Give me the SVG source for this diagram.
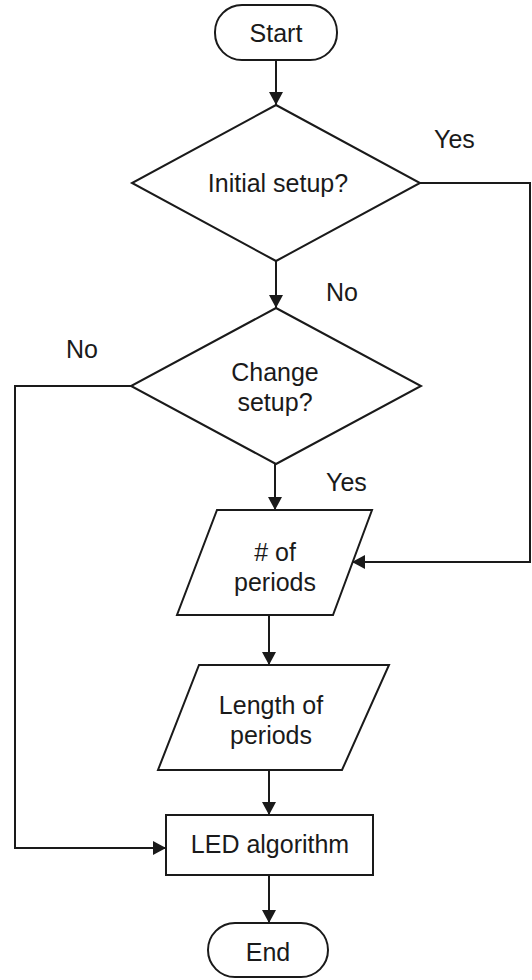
<svg xmlns="http://www.w3.org/2000/svg" width="532" height="980" viewBox="0 0 532 980">
<defs>
<style>
.shape{fill:#fff;stroke:#1a1a1a;stroke-width:2}
.conn{fill:none;stroke:#1a1a1a;stroke-width:2}
text{font-family:"Liberation Sans",Arial,sans-serif;font-size:25px;fill:#1a1a1a;text-anchor:middle}
.lbl{text-anchor:start}
</style>
<marker id="arr" markerUnits="userSpaceOnUse" markerWidth="14" markerHeight="14" refX="13" refY="7" orient="auto">
<path d="M0,0 L13,7 L0,14 z" fill="#1a1a1a"/>
</marker>
</defs>
<rect width="532" height="980" fill="#fff"/>
<g id="connectors">
<path class="conn" d="M276,60 V105" marker-end="url(#arr)"/>
<path class="conn" d="M276,261 V308" marker-end="url(#arr)"/>
<path class="conn" d="M420,183 H530 V562 H352" marker-end="url(#arr)"/>
<path class="conn" d="M131,386 H15 V848 H166" marker-end="url(#arr)"/>
<path class="conn" d="M275,464 V510" marker-end="url(#arr)"/>
<path class="conn" d="M269,615 V665" marker-end="url(#arr)"/>
<path class="conn" d="M269,770 V815" marker-end="url(#arr)"/>
<path class="conn" d="M269,875 V923" marker-end="url(#arr)"/>
</g>
<g id="labels">
<text class="lbl" x="434" y="148">Yes</text>
<text class="lbl" x="326" y="301">No</text>
<text class="lbl" x="66" y="358">No</text>
<text class="lbl" x="326" y="491">Yes</text>
</g>
<g id="start">
<rect class="shape" x="215" y="5" width="122" height="55" rx="27" ry="27"/>
<text x="276" y="42">Start</text>
</g>
<g id="initial-setup">
<polygon class="shape" points="276,105 420,183 276,261 132,183"/>
<text x="278" y="192">Initial setup?</text>
</g>
<g id="change-setup">
<polygon class="shape" points="276,308 421,386 276,464 131,386"/>
<text x="275" y="381">Change</text>
<text x="275" y="411">setup?</text>
</g>
<g id="num-periods">
<polygon class="shape" points="217,510 372,510 333,615 177,615"/>
<text x="275" y="561"># of</text>
<text x="275" y="591">periods</text>
</g>
<g id="length-periods">
<polygon class="shape" points="199,665 389,665 342,770 158,770"/>
<text x="271" y="714">Length of</text>
<text x="271" y="744">periods</text>
</g>
<g id="led">
<rect class="shape" x="166" y="815" width="207" height="60"/>
<text x="270" y="853">LED algorithm</text>
</g>
<g id="end">
<rect class="shape" x="208" y="923" width="120" height="54" rx="27" ry="27"/>
<text x="268" y="961">End</text>
</g>
</svg>
